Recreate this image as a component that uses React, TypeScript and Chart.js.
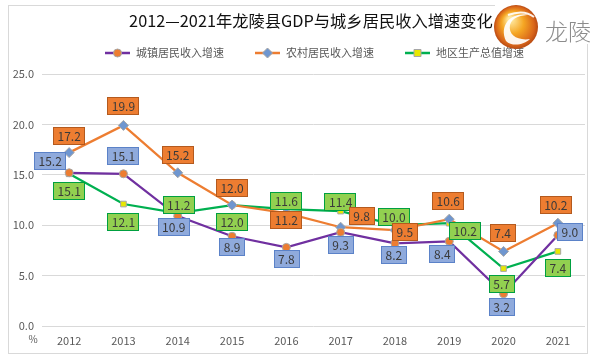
import React, { useEffect, useRef } from "react";
import { Chart, registerables } from "chart.js";

Chart.register(...registerables);

// ---------- data ----------
const years = ["2012", "2013", "2014", "2015", "2016", "2017", "2018", "2019", "2020", "2021"];
const urbanIncomeGrowth = [15.2, 15.1, 10.9, 8.9, 7.8, 9.3, 8.2, 8.4, 3.2, 9.0];
const ruralIncomeGrowth = [17.2, 19.9, 15.2, 12.0, 11.2, 9.8, 9.5, 10.6, 7.4, 10.2];
const gdpGrowth = [15.1, 12.1, 11.2, 12.0, 11.6, 11.4, 10.0, 10.2, 5.7, 7.4];
const seriesNames = ["城镇居民收入增速", "农村居民收入增速", "地区生产总值增速"];
const yTickValues = [0, 5, 10, 15, 20, 25];
const chartTitle = "2012—2021年龙陵县GDP与城乡居民收入增速变化";
const unitLabel = "%";
const logoText = "龙陵";

// label placement (offset of label centre from its point, px)
const urbanLabelOffsets = [[-19, -12], [0, -18], [-4, 11], [0, 11], [0, 11.5], [0, 12.5], [-1, 12], [-7, 12.5], [-2, 13], [12, -3]];
const ruralLabelOffsets = [[0, -17], [0, -19], [0, -18], [0, -17], [0, 7], [21, -11], [10, 2], [-1, -18], [-1, -18.5], [-2, -18]];
const gdpLabelOffsets = [[0, 17], [0, 17.5], [1, -8], [0, 16.5], [0, -8], [0, -9], [-1, -8.5], [16, 8], [-2, 15.5], [0, 16.5]];

const FONT = "'Noto Sans CJK SC', 'Noto Sans', sans-serif";

const series = [
  { name: seriesNames[0], data: urbanIncomeGrowth, line: "#7030A0", point: "#ED7D31", style: "circle", labelFill: "#8FAADC", labelBorder: "#5B82C8", offsets: urbanLabelOffsets },
  { name: seriesNames[1], data: ruralIncomeGrowth, line: "#ED7D31", point: "#6F96CF", style: "rectRot", labelFill: "#ED7D31", labelBorder: "#B45A1E", offsets: ruralLabelOffsets },
  { name: seriesNames[2], data: gdpGrowth, line: "#00B050", point: "#E8E800", style: "rect", labelFill: "#92D050", labelBorder: "#00A040", offsets: gdpLabelOffsets },
];

function drawMarker(ctx: CanvasRenderingContext2D, style: string, x: number, y: number, fill: string) {
  ctx.save();
  ctx.fillStyle = fill;
  ctx.strokeStyle = "#A6A6A6";
  ctx.lineWidth = 1;
  ctx.beginPath();
  if (style === "circle") {
    ctx.arc(x, y, 4, 0, Math.PI * 2);
  } else if (style === "rectRot") {
    ctx.moveTo(x, y - 5);
    ctx.lineTo(x + 5, y);
    ctx.lineTo(x, y + 5);
    ctx.lineTo(x - 5, y);
    ctx.closePath();
  } else {
    ctx.rect(x - 3.5, y - 3.5, 7, 7);
  }
  ctx.fill();
  ctx.stroke();
  ctx.restore();
}

const decorPlugin = {
  id: "decor",
  beforeDraw(chart: any) {
    const ctx: CanvasRenderingContext2D = chart.ctx;
    ctx.save();
    ctx.fillStyle = "#ffffff";
    ctx.fillRect(0, 0, chart.width, chart.height);
    ctx.strokeStyle = "#D9D9D9";
    ctx.lineWidth = 1;
    ctx.strokeRect(8.5, 5.5, 579, 348);
    ctx.restore();
  },
  afterDraw(chart: any) {
    const ctx: CanvasRenderingContext2D = chart.ctx;
    ctx.save();
    // title
    ctx.fillStyle = "#111111";
    ctx.font = `16.3px ${FONT}`;
    ctx.textAlign = "center";
    ctx.textBaseline = "middle";
    ctx.fillText(chartTitle, 311, 21);

    // legend
    const legendX = [105, 255, 405];
    series.forEach((s, i) => {
      const x0 = legendX[i];
      const y = 53;
      ctx.strokeStyle = s.line;
      ctx.lineWidth = 2.5;
      ctx.beginPath();
      ctx.moveTo(x0, y);
      ctx.lineTo(x0 + 25, y);
      ctx.stroke();
      drawMarker(ctx, s.style, x0 + 12.5, y, s.point);
      ctx.fillStyle = "#595959";
      ctx.font = `11px ${FONT}`;
      ctx.textAlign = "left";
      ctx.textBaseline = "middle";
      ctx.fillText(s.name, x0 + 31, y);
    });

    // unit
    ctx.fillStyle = "#595959";
    ctx.font = `10px ${FONT}`;
    ctx.textAlign = "center";
    ctx.fillText(unitLabel, 33, 339);

    // logo
    const cx = 516, cy = 27, r = 22;
    ctx.fillStyle = "#ffffff";
    ctx.fillRect(495, 0, 101, 8);
    ctx.fillRect(540, 0, 56, 44);
    const g = ctx.createRadialGradient(cx - 6, cy - 8, 2, cx, cy, r);
    g.addColorStop(0, "#FFE9A0");
    g.addColorStop(0.45, "#F5A623");
    g.addColorStop(0.85, "#D9661A");
    g.addColorStop(1, "#B84A12");
    ctx.fillStyle = g;
    ctx.beginPath();
    ctx.arc(cx, cy, r, 0, Math.PI * 2);
    ctx.fill();
    // swoosh
    ctx.fillStyle = "rgba(255,255,255,0.92)";
    ctx.beginPath();
    ctx.moveTo(cx + 14, cy - 12);
    ctx.bezierCurveTo(cx - 2, cy - 16, cx - 18, cy - 4, cx - 10, cy + 14);
    ctx.bezierCurveTo(cx - 4, cy + 20, cx + 8, cy + 18, cx + 14, cy + 12);
    ctx.bezierCurveTo(cx + 2, cy + 14, cx - 8, cy + 8, cx - 6, cy - 2);
    ctx.bezierCurveTo(cx - 4, cy - 10, cx + 6, cy - 12, cx + 14, cy - 12);
    ctx.fill();
    ctx.strokeStyle = "rgba(255,255,255,0.9)";
    ctx.lineWidth = 2;
    ctx.beginPath();
    ctx.moveTo(cx - 8, cy - 12);
    ctx.quadraticCurveTo(cx + 8, cy - 18, cx + 18, cy - 10);
    ctx.stroke();
    ctx.fillStyle = "#8C8C8C";
    ctx.font = `300 23px ${FONT}`;
    ctx.textAlign = "left";
    ctx.textBaseline = "middle";
    ctx.fillText(logoText, 545, 31);
    ctx.restore();
  },
};

const labelPlugin = {
  id: "boxLabels",
  afterDatasetsDraw(chart: any) {
    const ctx: CanvasRenderingContext2D = chart.ctx;
    ctx.save();
    ctx.font = `12px ${FONT}`;
    ctx.textAlign = "center";
    ctx.textBaseline = "middle";
    const order = [2, 0, 1];
    order.forEach((di) => {
      const s = series[di];
      const meta = chart.getDatasetMeta(di);
      meta.data.forEach((el: any, i: number) => {
        const txt = s.data[i].toFixed(1);
        const [dx, dy] = s.offsets[i];
        const x = el.x + dx;
        const y = el.y + dy;
        const w = ctx.measureText(txt).width + 9;
        const h = 18;
        ctx.fillStyle = s.labelFill;
        ctx.fillRect(Math.round(x - w / 2), Math.round(y - h / 2), Math.round(w), h);
        ctx.strokeStyle = s.labelBorder;
        ctx.lineWidth = 1;
        ctx.strokeRect(Math.round(x - w / 2) + 0.5, Math.round(y - h / 2) + 0.5, Math.round(w) - 1, h - 1);
        ctx.fillStyle = "#3A3A3A";
        ctx.fillText(txt, x, y + 0.5);
      });
    });
    ctx.restore();
  },
};

export default function App() {
  const ref = useRef<HTMLCanvasElement | null>(null);
  useEffect(() => {
    document.body.style.margin = "0";
    const canvas = ref.current;
    if (!canvas) return;
    const chart = new Chart(canvas, {
      type: "line",
      data: {
        labels: years,
        datasets: series.map((s) => ({
          label: s.name,
          data: s.data,
          borderColor: s.line,
          backgroundColor: s.point,
          borderWidth: 2.25,
          pointStyle: s.style as any,
          pointRadius: s.style === "rectRot" ? 5 : 4,
          pointBackgroundColor: s.point,
          pointBorderColor: "#A6A6A6",
          pointBorderWidth: 1,
          tension: 0,
          fill: false,
        })),
      },
      options: {
        animation: false,
        responsive: false,
        devicePixelRatio: 1,
        events: [],
        layout: { padding: { left: 0, right: 11, top: 74, bottom: 0 } },
        plugins: {
          legend: { display: false },
          title: { display: false },
          tooltip: { enabled: false },
        },
        scales: {
          x: {
            type: "category",
            offset: true,
            grid: { display: false, drawTicks: false },
            border: { display: false },
            ticks: { color: "#595959", font: { size: 11, family: FONT }, padding: 8, maxRotation: 0, autoSkip: false },
            afterFit: (scale: any) => { scale.height = 35; },
          },
          y: {
            min: 0,
            max: 25,
            afterBuildTicks: (scale: any) => { scale.ticks = yTickValues.map((v) => ({ value: v })); },
            grid: { color: "#D9D9D9", lineWidth: 1, drawTicks: false },
            border: { display: false },
            ticks: {
              color: "#595959",
              font: { size: 11, family: FONT },
              padding: 8,
              callback: (v: any) => Number(v).toFixed(1),
            },
            afterFit: (scale: any) => { scale.width = 42; },
          },
        },
      },
      plugins: [decorPlugin, labelPlugin],
    });
    return () => chart.destroy();
  }, []);
  return (
    <div style={{ width: 596, height: 361, position: "relative" }}>
      <canvas ref={ref} width={596} height={361} style={{ display: "block", width: 596, height: 361 }} />
    </div>
  );
}
